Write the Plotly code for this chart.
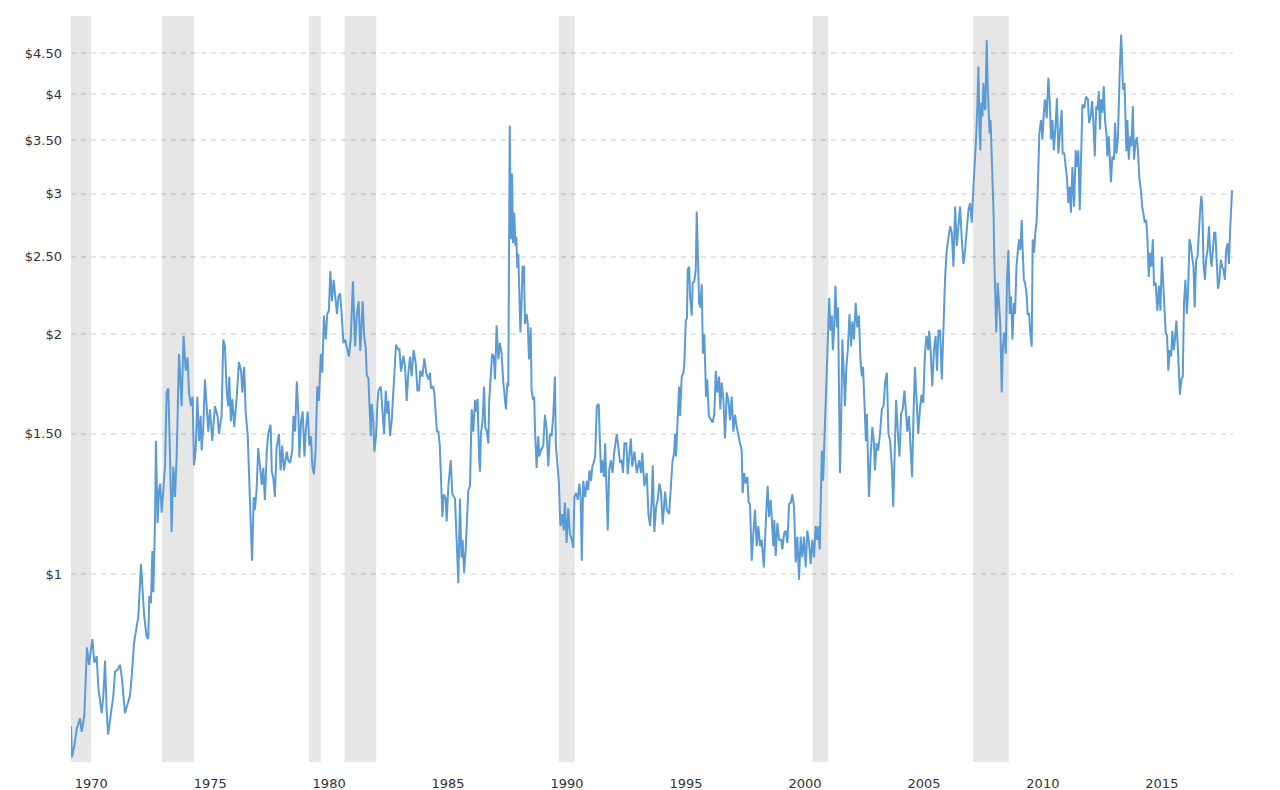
import plotly.graph_objects as go

# ---------------- data ----------------
years = [
    1970.00,1970.04,1970.14,1970.24,1970.38,1970.45,1970.56,1970.62,1970.67,1970.76,1970.90,1970.98,
    1971.08,1971.15,1971.29,1971.36,1971.43,1971.50,1971.56,1971.68,1971.78,1971.85,1971.96,
    1972.06,1972.13,1972.27,1972.38,1972.48,1972.55,1972.65,1972.76,1972.83,1972.94,
    1973.00,1973.08,1973.18,1973.25,1973.29,1973.36,1973.42,1973.46,1973.53,1973.57,1973.64,1973.70,1973.75,1973.81,1973.90,1973.95,
    1974.02,1974.09,1974.16,1974.23,1974.30,1974.37,1974.44,1974.54,1974.65,1974.73,1974.82,1974.90,1974.96,
    1975.04,1975.11,1975.17,1975.24,1975.31,1975.38,1975.45,1975.49,1975.56,1975.63,
    1975.70,1975.77,1975.84,1975.94,
    1976.05,1976.16,1976.22,1976.33,1976.40,1976.47,1976.54,1976.61,1976.65,1976.72,1976.78,1976.86,1976.96,
    1977.06,1977.15,1977.20,1977.28,1977.34,1977.43,1977.48,1977.54,1977.61,1977.68,1977.73,1977.80,1977.87,1977.94,
    1978.02,1978.08,1978.15,1978.23,1978.29,1978.39,1978.44,1978.50,1978.57,1978.64,1978.74,1978.81,1978.88,1978.95,
    1979.07,1979.13,1979.21,1979.30,1979.35,1979.42,1979.49,1979.56,1979.60,1979.67,1979.74,1979.81,1979.88,1979.95,
    1980.02,1980.09,1980.14,1980.21,1980.28,1980.35,1980.42,1980.50,1980.56,1980.63,1980.71,1980.77,1980.84,1980.90,1980.97,
    1981.04,1981.13,1981.18,1981.24,1981.31,1981.38,1981.45,1981.52,1981.59,1981.68,1981.76,1981.81,
    1981.85,1981.94,
    1982.01,1982.09,1982.16,1982.26,1982.32,1982.39,1982.43,1982.50,1982.54,1982.60,1982.64,1982.71,1982.75,1982.82,1982.88,1982.92,
    1983.02,1983.09,1983.16,1983.23,1983.29,1983.34,1983.41,1983.48,1983.55,1983.62,1983.66,1983.76,1983.80,1983.87,1983.97,
    1984.04,1984.11,1984.18,1984.25,1984.32,1984.40,1984.49,1984.56,1984.63,1984.68,1984.77,1984.85,1984.93,
    1985.02,1985.09,1985.13,1985.22,1985.27,1985.33,1985.38,1985.44,1985.50,1985.55,1985.61,1985.67,1985.75,1985.79,1985.86,1985.96,
    1986.03,1986.14,1986.21,1986.28,1986.35,1986.41,1986.46,1986.52,1986.59,1986.65,1986.70,1986.77,1986.84,1986.91,1986.98,
    1987.04,1987.09,1987.15,1987.19,1987.23,1987.30,1987.36,1987.41,1987.48,1987.54,1987.58,1987.64,1987.70,1987.77,
    1987.82,1987.89,1987.96,
    1988.03,1988.10,1988.17,1988.24,1988.28,1988.34,1988.38,1988.44,1988.49,1988.54,1988.58,1988.63,1988.68,1988.72,1988.76,1988.80,1988.84,1988.89,1988.94,1988.98,
    1989.04,1989.08,1989.15,1989.20,1989.25,1989.32,1989.36,1989.42,1989.47,1989.50,1989.57,1989.64,1989.68,1989.75,1989.85,1989.92,1989.99,
    1990.06,1990.13,1990.20,1990.27,1990.34,1990.38,1990.46,1990.51,1990.57,1990.65,1990.71,1990.76,1990.83,1990.90,1990.97,
    1991.05,1991.11,1991.16,1991.23,1991.30,1991.37,1991.42,1991.47,1991.53,1991.61,1991.68,1991.74,1991.79,1991.86,1991.91,1991.97,
    1992.03,1992.10,1992.18,1992.23,1992.28,1992.33,1992.40,1992.45,1992.50,1992.56,1992.62,1992.69,1992.76,1992.84,1992.94,
    1993.01,1993.08,1993.15,1993.20,1993.26,1993.34,1993.40,1993.45,1993.53,1993.59,1993.68,
    1993.78,1993.88,1993.96,
    1994.01,1994.10,1994.20,1994.27,1994.34,1994.41,1994.45,1994.52,1994.59,1994.66,1994.73,1994.80,1994.87,1994.97,
    1995.04,1995.14,1995.21,1995.28,1995.35,1995.39,1995.43,1995.50,1995.56,1995.60,1995.67,1995.74,1995.78,1995.84,1995.89,1995.92,1995.98,
    1996.02,1996.09,1996.13,1996.20,1996.26,1996.30,1996.34,1996.40,1996.45,1996.51,1996.56,1996.62,1996.69,1996.74,1996.81,1996.90,1996.97,
    1997.04,1997.10,1997.17,1997.24,1997.29,1997.35,1997.42,1997.49,1997.56,1997.63,1997.70,1997.77,1997.84,1997.91,1997.98,
    1998.05,1998.12,1998.19,1998.23,1998.29,1998.36,1998.43,1998.48,1998.54,1998.61,1998.68,1998.75,1998.82,1998.89,1998.96,
    1999.03,1999.12,1999.17,1999.24,1999.28,1999.34,1999.41,1999.46,1999.52,1999.56,
    1999.62,1999.69,1999.76,1999.85,1999.90,1999.97,
    2000.04,2000.11,2000.18,2000.25,2000.32,2000.39,2000.46,2000.53,2000.60,2000.67,2000.74,2000.81,2000.88,2000.95,
    2001.02,2001.09,2001.16,2001.23,2001.30,2001.37,2001.41,2001.47,2001.51,2001.56,2001.61,2001.67,2001.71,2001.77,2001.83,2001.87,2001.92,2001.98,
    2002.02,2002.07,2002.13,2002.19,2002.24,2002.28,2002.32,2002.37,2002.42,2002.48,2002.53,2002.59,2002.65,2002.72,2002.79,2002.84,2002.91,2002.98,
    2003.05,2003.12,2003.18,2003.24,2003.29,2003.35,2003.41,2003.45,2003.50,2003.54,2003.61,2003.68,2003.75,2003.79,2003.86,2003.93,
    2004.01,2004.08,2004.15,2004.22,2004.29,2004.36,2004.43,2004.50,2004.56,2004.61,2004.68,2004.75,2004.82,2004.89,2004.96,
    2005.03,2005.09,2005.15,2005.22,2005.29,2005.35,2005.41,
    2005.47,2005.54,2005.61,2005.68,2005.75,2005.82,2005.89,2005.96,
    2006.03,2006.07,2006.13,2006.20,2006.27,2006.34,2006.40,2006.46,2006.53,2006.60,2006.67,2006.74,2006.81,2006.88,2006.95,
    2007.02,2007.09,2007.16,2007.23,2007.30,2007.37,2007.44,2007.51,2007.58,2007.65,2007.72,2007.79,2007.86,2007.93,
    2008.00,2008.04,2008.10,2008.14,2008.18,2008.22,2008.26,2008.31,2008.35,2008.39,2008.43,2008.49,2008.53,2008.57,2008.61,2008.65,2008.70,2008.74,2008.78,2008.80,2008.85,2008.89,2008.95,
    2009.01,2009.06,2009.12,2009.17,2009.23,2009.29,2009.34,2009.40,2009.46,2009.51,2009.57,2009.63,2009.68,2009.74,2009.79,2009.85,2009.90,2009.96,
    2010.00,2010.05,2010.10,2010.16,2010.21,2010.27,2010.32,2010.38,2010.42,2010.48,2010.53,2010.59,2010.64,2010.70,2010.77,2010.83,2010.89,2010.94,
    2011.01,2011.08,2011.14,2011.19,2011.25,2011.31,
    2011.37,2011.44,2011.50,2011.57,2011.64,2011.68,2011.75,2011.81,2011.86,2011.92,2011.98,
    2012.03,2012.09,2012.16,2012.23,2012.28,2012.34,2012.40,2012.45,2012.51,2012.59,2012.66,2012.74,2012.79,2012.86,2012.92,2012.97,
    2013.03,2013.09,2013.14,2013.20,2013.25,2013.29,2013.35,2013.41,2013.46,2013.52,2013.56,2013.62,2013.67,2013.71,2013.77,2013.84,2013.88,2013.94,
    2014.00,2014.04,2014.09,2014.14,2014.18,2014.22,2014.28,2014.32,2014.36,2014.40,2014.46,2014.52,2014.57,2014.63,2014.68,2014.74,2014.80,2014.85,2014.91,2014.97,
    2015.02,2015.07,2015.13,2015.19,2015.24,2015.30,2015.35,2015.41,2015.47,2015.52,2015.59,2015.66,2015.73,2015.79,2015.85,2015.90,2015.96,
    2016.01,2016.07,2016.12,2016.18,2016.24,2016.29,2016.35,2016.40,2016.46,2016.52,2016.57,2016.61,2016.67,2016.73,2016.78,2016.84,2016.90,2016.95,
    2017.01,2017.07,2017.12,2017.18,2017.23,2017.29,2017.35,2017.40,2017.46,2017.51,2017.55,2017.60,2017.66,2017.71,2017.77,2017.83,2017.88,2017.94,2017.99,
    2018.05,2018.10,2018.16,2018.21,2018.27,2018.33,2018.38,2018.44,2018.50,2018.55,2018.61,2018.67,2018.72,2018.80,
]

prices = [
    0.645,0.59,0.61,0.64,0.66,0.635,0.665,0.73,0.81,0.77,0.83,0.775,
    0.79,0.72,0.67,0.705,0.78,0.675,0.63,0.67,0.705,0.755,0.76,
    0.77,0.745,0.67,0.69,0.705,0.745,0.82,0.86,0.885,1.03,
    0.975,0.885,0.835,0.83,0.94,0.92,1.07,0.95,1.16,1.47,1.16,1.275,1.30,1.195,1.30,1.365,
    1.69,1.71,1.415,1.13,1.365,1.25,1.40,1.89,1.625,1.99,1.80,1.87,1.69,
    1.625,1.67,1.37,1.43,1.67,1.47,1.58,1.43,1.53,1.755,
    1.625,1.51,1.61,1.47,
    1.625,1.58,1.50,1.58,1.97,1.93,1.70,1.625,1.77,1.555,1.66,1.53,1.66,
    1.845,1.80,1.69,1.82,1.60,1.49,1.30,1.19,1.04,1.25,1.205,1.275,1.44,1.38,
    1.295,1.36,1.24,1.43,1.50,1.54,1.345,1.325,1.25,1.44,1.50,1.35,1.45,1.35,
    1.425,1.39,1.38,1.43,1.58,1.51,1.745,1.58,1.40,1.555,1.60,1.405,1.53,1.60,
    1.45,1.49,1.37,1.335,1.43,1.72,1.65,1.89,1.79,2.11,1.97,2.12,2.14,2.40,2.20,
    2.34,2.19,2.12,2.23,2.25,2.11,1.95,1.97,1.93,1.875,1.98,2.16,
    2.33,1.93,
    2.11,2.20,1.905,2.20,1.99,1.92,1.78,1.76,1.64,1.49,1.635,1.55,1.425,1.49,1.64,1.70,
    1.72,1.61,1.50,1.70,1.59,1.65,1.49,1.56,1.69,1.80,1.94,1.91,1.92,1.795,1.88,
    1.82,1.65,1.79,1.875,1.77,1.91,1.84,1.70,1.70,1.80,1.77,1.865,1.79,
    1.755,1.79,1.71,1.72,1.69,1.59,1.51,1.51,1.45,1.325,1.18,1.26,1.245,1.165,1.29,1.39,
    1.26,1.245,1.125,0.975,1.245,1.05,1.105,1.005,1.075,1.215,1.275,1.29,1.61,1.51,1.655,
    1.60,1.66,1.405,1.345,1.50,1.56,1.72,1.53,1.51,1.46,1.655,1.79,1.89,1.875,
    1.755,2.05,1.86,
    1.95,1.89,1.74,1.655,1.61,1.74,1.72,3.65,2.63,3.18,2.60,2.84,2.58,2.65,2.42,2.52,2.20,2.01,2.20,2.43,
    2.43,2.06,2.12,2.06,1.86,2.04,1.70,1.655,1.67,1.525,1.36,1.49,1.405,1.43,1.45,1.585,1.525,
    1.365,1.50,1.49,1.58,1.77,1.45,1.365,1.30,1.15,1.19,1.135,1.23,1.095,1.21,1.125,
    1.105,1.08,1.25,1.265,1.24,1.30,1.25,1.04,1.31,1.25,1.31,1.275,1.35,1.31,1.365,1.38,
    1.405,1.625,1.635,1.47,1.34,1.39,1.325,1.46,1.31,1.135,1.35,1.39,1.34,1.43,1.50,
    1.45,1.38,1.39,1.34,1.46,1.46,1.335,1.405,1.48,1.365,1.425,
    1.34,1.39,1.34,
    1.42,1.29,1.34,1.19,1.15,1.24,1.37,1.13,1.215,1.24,1.30,1.265,1.155,1.27,
    1.205,1.19,1.31,1.385,1.42,1.50,1.405,1.59,1.72,1.58,1.77,1.79,1.84,2.08,2.095,2.41,2.43,
    2.23,2.11,2.32,2.33,2.41,2.85,2.58,2.19,2.16,2.31,1.89,2.00,1.67,1.755,1.58,1.56,1.55,
    1.59,1.80,1.69,1.77,1.61,1.74,1.655,1.48,1.69,1.655,1.56,1.67,1.51,1.585,1.53,
    1.49,1.46,1.43,1.265,1.34,1.30,1.325,1.23,1.225,1.04,1.125,1.205,1.085,1.15,1.085,
    1.105,1.02,1.125,1.23,1.29,1.18,1.24,1.15,1.085,1.17,
    1.055,1.16,1.105,1.105,1.075,1.125,
    1.135,1.095,1.225,1.23,1.26,1.215,1.035,1.115,0.985,1.115,1.05,1.115,1.02,1.135,
    1.095,1.03,1.105,1.05,1.15,1.105,1.15,1.075,1.275,1.43,1.31,1.50,1.655,1.86,2.04,2.22,2.02,2.11,
    1.91,2.01,2.30,2.04,2.16,1.74,1.34,1.55,1.97,1.79,1.625,1.82,1.91,2.12,1.93,2.075,1.97,2.19,
    2.04,2.11,1.86,1.77,1.82,1.64,1.47,1.59,1.405,1.25,1.405,1.53,1.46,1.35,1.46,1.43,
    1.51,1.61,1.625,1.74,1.79,1.50,1.47,1.365,1.215,1.405,1.655,1.51,1.405,1.59,1.61,
    1.70,1.59,1.51,1.58,1.43,1.325,1.58,
    1.82,1.655,1.50,1.61,1.68,1.64,1.89,1.99,
    1.91,2.02,1.91,1.72,1.91,1.99,1.80,2.02,2.02,1.755,2.04,2.36,2.55,2.63,2.73,
    2.68,2.43,2.89,2.58,2.73,2.89,2.63,2.45,2.55,2.68,2.86,2.92,2.76,3.06,
    3.32,3.51,3.90,4.33,3.65,3.40,3.90,3.75,4.13,3.86,3.82,4.67,4.09,3.75,3.57,3.71,3.34,3.18,2.81,2.53,2.30,2.01,2.32,
    2.12,2.06,1.69,1.93,2.01,1.89,2.34,2.55,2.12,2.23,1.97,2.19,2.12,2.43,2.53,2.63,2.55,2.78,
    2.55,2.34,2.32,2.25,2.12,2.12,2.01,1.93,2.63,2.53,2.68,2.78,3.09,3.57,3.71,3.51,3.79,3.94,
    3.73,4.19,3.90,3.51,3.71,3.40,
    3.61,3.95,3.37,3.56,3.82,3.37,3.37,3.24,3.15,2.92,3.06,
    2.84,3.24,2.89,3.40,3.24,3.40,2.86,3.37,3.88,3.84,3.97,3.94,3.68,3.75,3.92,3.71,
    3.34,3.86,3.82,4.03,3.61,3.94,3.79,4.09,3.71,3.57,3.34,3.54,3.24,3.10,3.34,3.31,3.68,3.37,
    3.51,3.97,4.37,4.75,4.33,4.05,4.13,3.71,3.39,3.71,3.31,3.54,3.44,3.86,3.31,3.48,3.53,3.37,3.12,3.03,
    2.89,2.84,2.76,2.78,2.65,2.36,2.53,2.43,2.63,2.30,2.32,2.14,2.30,2.14,2.50,2.34,2.14,
    2.01,1.99,1.80,1.91,1.875,2.02,1.91,1.97,2.08,1.93,1.82,1.68,1.755,1.77,2.19,2.34,2.12,2.25,
    2.63,2.58,2.50,2.43,2.16,2.48,2.50,2.68,2.86,2.98,2.89,2.45,2.34,2.48,2.55,2.73,2.53,2.43,2.53,
    2.68,2.68,2.48,2.28,2.34,2.48,2.43,2.41,2.34,2.55,2.60,2.45,2.70,3.03,
]

# recession periods (fractional years)
recession_start = [1969.92, 1973.83, 1980.00, 1981.50, 1990.50, 2001.17, 2007.92]
recession_end   = [1970.84, 1975.17, 1980.50, 1982.83, 1991.17, 2001.83, 2009.42]

# axis ticks
x_tick_years = [1970, 1975, 1980, 1985, 1990, 1995, 2000, 2005, 2010, 2015]
y_tick_values = [1, 1.5, 2, 2.5, 3, 3.5, 4, 4.5]
y_tick_text = ["$1", "$1.50", "$2", "$2.50", "$3", "$3.50", "$4", "$4.50"]

assert len(years) == len(prices), (len(years), len(prices))

# ---------------- figure ----------------
FONT = "DejaVu Sans"
TEXT = "#333333"
label_offset = 0.85  # year labels sit to the right of the Jan-1 position

fig = go.Figure()
fig.add_trace(go.Scatter(
    x=years, y=prices, mode="lines",
    line=dict(color="#5b9bd5", width=2),
    hoverinfo="skip", showlegend=False,
))

for s, e in zip(recession_start, recession_end):
    fig.add_vrect(x0=s, x1=e, fillcolor="#e6e6e6", opacity=1,
                  line_width=0, layer="below")

fig.update_layout(
    width=1280, height=790,
    margin=dict(l=71, r=47, t=16, b=28, autoexpand=False),
    paper_bgcolor="white", plot_bgcolor="white",
    font=dict(family=FONT, size=13, color=TEXT),
    showlegend=False,
)
fig.update_xaxes(
    range=[1970.0, 2018.84], automargin=False,
    showgrid=False, zeroline=False, showline=False, ticks="",
    tickvals=[y + label_offset for y in x_tick_years],
    ticktext=[str(y) for y in x_tick_years],
    ticklabelstandoff=12,
    tickfont=dict(family=FONT, size=13, color=TEXT),
)
fig.update_yaxes(
    type="log", automargin=False,
    range=[-0.2351, 0.6998],
    tickvals=y_tick_values, ticktext=y_tick_text,
    showgrid=True, gridcolor="rgba(0,0,0,0.10)", gridwidth=2, griddash="5px,5px",
    zeroline=False, showline=False, ticks="",
    ticklabelstandoff=8,
    tickfont=dict(family=FONT, size=13, color=TEXT),
)

# remove the browser's default 8px body margin so the 1280x790 figure fills the window
fig.write_html(
    "out.html",
    config={"displayModeBar": False},
    post_script="document.body.style.margin='0px';document.body.style.overflow='hidden';",
)
